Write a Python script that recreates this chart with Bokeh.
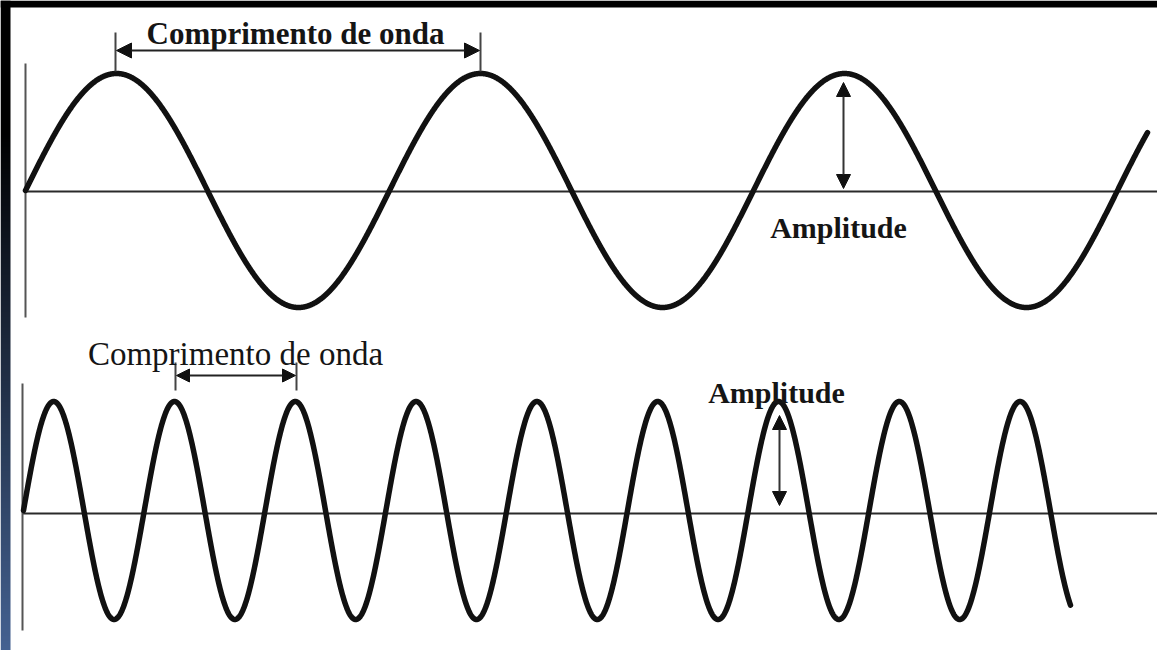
import numpy as np
from bokeh.plotting import figure
from bokeh.models import Range1d, Arrow, NormalHead
from bokeh.core.properties import value
from bokeh.embed import file_html
from bokeh.resources import INLINE

# ---- data (diagram coordinates, image pixels, y grows downward) ----
wave_names = ["longa", "curta"]
wave_start_x = [25, 23]
wave_end_x = [1147, 1070]
wavelength = [364, 120.8]
amplitude = [117, 109]
wave_center_y = [190, 510]

axis_y = [191, 513]
axis_x0 = [25, 22]
axis_x1 = [1157, 1157]
vert_x = [25, 22]
vert_y0 = [63, 383]
vert_y1 = [317, 630]

# wavelength markers (between two crests)
wl_x0 = [115, 175]
wl_x1 = [480, 296]
wl_y = [50, 375]
wl_tick_y0 = [32, 362]
wl_tick_y1 = [71, 390]

# amplitude markers
amp_x = [843, 779]
amp_y0 = [82, 415]
amp_y1 = [188, 505]

labels = ["Comprimento de onda", "Amplitude", "Comprimento de onda", "Amplitude"]
label_x = [295, 838, 235, 776]
label_y = [33, 227, 353, 392]
label_size = ["31px", "30px", "33px", "30px"]
label_style = ["bold", "bold", "normal", "bold"]

W, H = 1157, 650
p = figure(width=W, height=H, x_range=Range1d(0, W), y_range=Range1d(H, 0),
           output_backend="svg", toolbar_location=None, min_border=0,
           x_axis_location=None, y_axis_location=None,
           background_fill_color="white", border_fill_color="white")
p.grid.visible = False
p.outline_line_color = None

# top dark band
p.quad(left=[0], right=[W], top=[0], bottom=[7], fill_color="#000000", line_color=None)

# left decorative stripe: smooth dark (top) to blue (bottom) gradient as a raster image
n = H
t = np.clip((np.arange(n) / n - 0.2) / 0.8, 0, 1)[::-1]
img = np.zeros((n, 1), dtype=np.uint32)
view = img.view(dtype=np.uint8).reshape((n, 1, 4))
view[:, 0, 0] = (0x45 * t).astype(np.uint8)
view[:, 0, 1] = (0x62 * t).astype(np.uint8)
view[:, 0, 2] = (0x92 * t).astype(np.uint8)
view[:, 0, 3] = 255
p.image_rgba(image=[img], x=0, y=0, dw=10, dh=H, origin="top_left")

# baselines and vertical axes
for i in range(2):
    p.line([axis_x0[i], axis_x1[i]], [axis_y[i], axis_y[i]], line_color="#2a2a2a", line_width=2)
    p.line([vert_x[i], vert_x[i]], [vert_y0[i], vert_y1[i]], line_color="#555555", line_width=2)

# waves
for i in range(2):
    x = np.linspace(wave_start_x[i], wave_end_x[i], 3000)
    y = wave_center_y[i] - amplitude[i] * np.sin(2 * np.pi * (x - wave_start_x[i]) / wavelength[i])
    p.line(x, y, line_color="#111111", line_width=5.5, line_join="round", line_cap="round")

# wavelength markers
for i in range(2):
    p.line([wl_x0[i], wl_x0[i]], [wl_tick_y0[i], wl_tick_y1[i]], line_color="#444444", line_width=2)
    p.line([wl_x1[i], wl_x1[i]], [wl_tick_y0[i], wl_tick_y1[i]], line_color="#444444", line_width=2)
    hs = 15 if i == 0 else 13
    p.add_layout(Arrow(start=NormalHead(size=hs, fill_color="#111111", line_color="#111111"),
                       end=NormalHead(size=hs, fill_color="#111111", line_color="#111111"),
                       x_start=wl_x0[i] + 1, y_start=wl_y[i], x_end=wl_x1[i] - 1, y_end=wl_y[i],
                       line_color="#222222", line_width=2))

# amplitude markers
for i in range(2):
    p.add_layout(Arrow(start=NormalHead(size=14, fill_color="#111111", line_color="#111111"),
                       end=NormalHead(size=14, fill_color="#111111", line_color="#111111"),
                       x_start=amp_x[i], y_start=amp_y0[i], x_end=amp_x[i], y_end=amp_y1[i],
                       line_color="#333333", line_width=2))

# labels
for i in range(4):
    p.text(x=[label_x[i]], y=[label_y[i]], text=[labels[i]],
           text_font=value("Liberation Serif"), text_font_size=label_size[i],
           text_font_style=label_style[i], text_color="#151515",
           text_align="center", text_baseline="alphabetic")

open("out.html", "w").write(file_html(p, INLINE))
